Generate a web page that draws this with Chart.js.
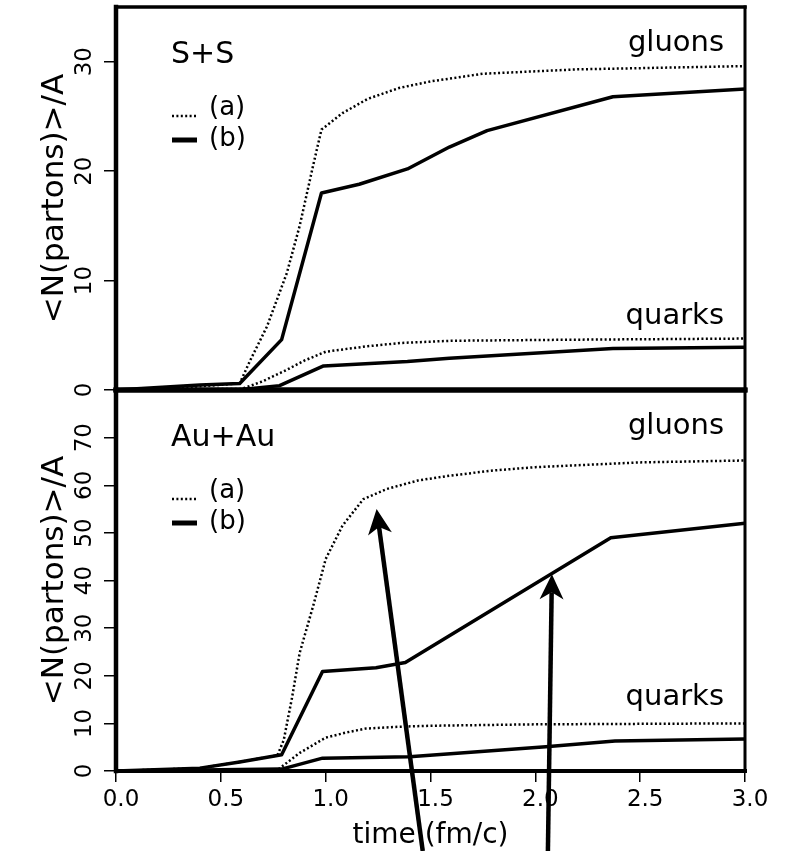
<!DOCTYPE html>
<html>
<head>
<meta charset="utf-8">
<script src="https://cdn.jsdelivr.net/npm/chart.js@4/dist/chart.umd.min.js"></script>
<style>
  html, body { margin: 0; padding: 0; background: #fff; }
  body { width: 796px; height: 851px; position: relative; overflow: hidden; }
  canvas { position: absolute; left: 0; }
  #ssChart { top: 0; }
  #auChart { top: 380px; }
</style>
</head>
<body>
<canvas id="ssChart" width="796" height="400"></canvas>
<canvas id="auChart" width="796" height="471"></canvas>
<script>
// S+S panel
const ssGluonTimeA = [0, 0.3, 0.59, 0.64, 0.72, 0.815, 0.876, 0.94, 0.98, 1.08, 1.2, 1.35, 1.5, 1.75, 2.2, 3.0];
const ssGluonA     = [0, 0.2, 0.6, 2.7, 5.8, 10.7, 15.0, 20.5, 23.8, 25.3, 26.6, 27.6, 28.2, 28.9, 29.3, 29.6];
const ssGluonTimeB = [0, 0.4, 0.59, 0.79, 0.98, 1.16, 1.39, 1.59, 1.77, 2.37, 3.0];
const ssGluonB     = [0, 0.45, 0.6, 4.6, 18.0, 18.8, 20.2, 22.2, 23.7, 26.8, 27.5];
const ssQuarkTimeA = [0, 0.6, 0.7, 0.81, 0.9, 1.0, 1.2, 1.36, 1.6, 2.2, 3.0];
const ssQuarkA     = [0, 0.1, 0.8, 1.8, 2.7, 3.5, 4.0, 4.3, 4.5, 4.6, 4.7];
const ssQuarkTimeB = [0, 0.6, 0.78, 0.99, 1.39, 1.59, 2.37, 3.0];
const ssQuarkB     = [0, 0.05, 0.4, 2.2, 2.6, 2.9, 3.8, 3.9];

// Au+Au panel
const auGluonTimeA = [0, 0.4, 0.59, 0.77, 0.80, 0.84, 0.876, 0.94, 1.0, 1.08, 1.18, 1.29, 1.44, 1.59, 1.8, 2.0, 2.5, 3.0];
const auGluonA     = [0, 0.6, 1.9, 3.3, 6.5, 15.5, 24.8, 34.6, 44.5, 51.5, 57.1, 59.2, 61.0, 62.0, 63.1, 63.8, 64.8, 65.2];
const auGluonTimeB = [0, 0.4, 0.59, 0.79, 0.985, 1.24, 1.38, 2.36, 3.0];
const auGluonB     = [0, 0.6, 1.9, 3.4, 20.9, 21.7, 22.8, 49.0, 52.0];
const auQuarkTimeA = [0, 0.77, 0.876, 1.0, 1.1, 1.19, 1.35, 1.5, 2.0, 3.0];
const auQuarkA     = [0, 0.2, 3.8, 7.0, 8.1, 8.9, 9.3, 9.5, 9.8, 10.0];
const auQuarkTimeB = [0, 0.79, 0.985, 1.4, 2.05, 2.38, 3.0];
const auQuarkB     = [0, 0.4, 2.7, 3.0, 5.1, 6.3, 6.7];

// arrows: tip (time, value) and time where the shaft leaves the page bottom
const arrowTipTime  = [1.243, 2.079];
const arrowTipValue = [55.0, 41.3];
const arrowTailTime = [1.463, 2.06];

const xTicks = [0, 0.5, 1.0, 1.5, 2.0, 2.5, 3.0];
const FONT = 'DejaVu Sans';
const DOTS = [2, 2.4];

Chart.defaults.font.family = FONT;
Chart.defaults.color = '#000';

function pts(times, values) {
  return times.map((t, i) => ({x: t, y: values[i]}));
}

function lineSet(label, times, values, dotted) {
  return {
    label: label,
    data: pts(times, values),
    borderColor: '#000',
    borderWidth: dotted ? 2.5 : 3.5,
    borderDash: dotted ? DOTS : [],
    borderJoinStyle: 'round',
    tension: 0,
    pointRadius: 0,
    fill: false
  };
}

function yScale(max) {
  return {
    min: 0, max: max,
    afterBuildTicks: s => { s.ticks = s.ticks.filter(t => t.value < max && t.value % 10 === 0); },
    afterFit: s => { s.width = 116; s.paddingTop = 0; s.paddingBottom = 0; },
    ticks: { stepSize: 10, autoSkip: false, minRotation: 90, maxRotation: 90, crossAlign: 'center', padding: 4, font: {size: 23} },
    grid: { drawOnChartArea: false, tickLength: 12, color: '#000', lineWidth: 1.5 },
    border: { display: false },
    title: { display: true, text: '<N(partons)>/A', font: {size: 31}, padding: {top: 36, bottom: 0} }
  };
}

function seg(ctx, x1, y1, x2, y2, w) {
  ctx.lineWidth = w;
  ctx.beginPath();
  ctx.moveTo(x1, y1);
  ctx.lineTo(x2, y2);
  ctx.stroke();
}

// frame, panel name, little legend and curve labels
const notesPlugin = {
  id: 'notes',
  afterDraw(chart, args, o) {
    const {ctx, chartArea: a} = chart;
    ctx.save();
    ctx.strokeStyle = '#000';
    ctx.fillStyle = '#000';
    ctx.lineCap = 'square';
    seg(ctx, a.left, a.top, a.left, a.bottom, 4.5);
    seg(ctx, a.left, a.top, a.right, a.top, o.topWidth);
    seg(ctx, a.right, a.top, a.right, a.bottom, 3);
    seg(ctx, a.left, a.bottom, a.right, a.bottom, o.bottomWidth);

    ctx.textAlign = 'left';
    ctx.textBaseline = 'alphabetic';
    ctx.font = '30px "' + FONT + '"';
    ctx.fillText(o.system, a.left + 55, a.top + 56);

    ctx.font = '29px "' + FONT + '"';
    ctx.textAlign = 'right';
    ctx.fillText('gluons', a.right - 21, a.top + 44);
    ctx.fillText('quarks', a.right - 21, a.bottom - 66);

    // legend samples
    ctx.lineCap = 'butt';
    ctx.setLineDash(DOTS);
    seg(ctx, a.left + 56, a.top + 109, a.left + 82, a.top + 109, 2.5);
    ctx.setLineDash([]);
    seg(ctx, a.left + 56, a.top + 133, a.left + 81, a.top + 133, 5);
    ctx.textAlign = 'left';
    ctx.textBaseline = 'middle';
    ctx.font = '26px "' + FONT + '"';
    ctx.fillText('(a)', a.left + 93, a.top + 101);
    ctx.fillText('(b)', a.left + 93, a.top + 132);
    ctx.restore();
  }
};

const arrowPlugin = {
  id: 'arrows',
  afterDraw(chart) {
    const ctx = chart.ctx;
    const xs = chart.scales.x, ys = chart.scales.y;
    ctx.save();
    ctx.strokeStyle = '#000';
    ctx.fillStyle = '#000';
    arrowTipTime.forEach((t, i) => {
      const tx = xs.getPixelForValue(t), ty = ys.getPixelForValue(arrowTipValue[i]);
      const bx = xs.getPixelForValue(arrowTailTime[i]), by = chart.height;
      const len = Math.hypot(tx - bx, ty - by);
      const ux = (tx - bx) / len, uy = (ty - by) / len;
      const px = -uy, py = ux;
      seg(ctx, bx, by, tx - ux * 18, ty - uy * 18, 4.5);
      ctx.beginPath();
      ctx.moveTo(tx, ty);
      ctx.lineTo(tx - ux * 25 + px * 12, ty - uy * 25 + py * 12);
      ctx.lineTo(tx - ux * 18, ty - uy * 18);
      ctx.lineTo(tx - ux * 25 - px * 12, ty - uy * 25 - py * 12);
      ctx.closePath();
      ctx.fill();
    });
    ctx.restore();
  }
};

new Chart(document.getElementById('ssChart'), {
  type: 'line',
  data: {
    datasets: [
      lineSet('gluons (a)', ssGluonTimeA, ssGluonA, true),
      lineSet('gluons (b)', ssGluonTimeB, ssGluonB, false),
      lineSet('quarks (a)', ssQuarkTimeA, ssQuarkA, true),
      lineSet('quarks (b)', ssQuarkTimeB, ssQuarkB, false)
    ]
  },
  options: {
    responsive: false,
    animation: false,
    layout: { padding: {top: 7, bottom: 10, left: 0, right: 51} },
    plugins: {
      legend: { display: false },
      tooltip: { enabled: false },
      notes: { system: 'S+S', topWidth: 3.5, bottomWidth: 5 }
    },
    scales: {
      x: { type: 'linear', min: 0, max: 3, display: false },
      y: yScale(35)
    }
  },
  plugins: [notesPlugin]
});

new Chart(document.getElementById('auChart'), {
  type: 'line',
  data: {
    datasets: [
      lineSet('gluons (a)', auGluonTimeA, auGluonA, true),
      lineSet('gluons (b)', auGluonTimeB, auGluonB, false),
      lineSet('quarks (a)', auQuarkTimeA, auQuarkA, true),
      lineSet('quarks (b)', auQuarkTimeB, auQuarkB, false)
    ]
  },
  options: {
    responsive: false,
    animation: false,
    layout: { padding: {top: 10, bottom: 0, left: 0, right: 51} },
    plugins: {
      legend: { display: false },
      tooltip: { enabled: false },
      notes: { system: 'Au+Au', topWidth: 5, bottomWidth: 4 }
    },
    scales: {
      x: {
        type: 'linear', min: 0, max: 3,
        afterBuildTicks: s => { s.ticks = xTicks.map(v => ({value: v})); },
        afterFit: s => { s.height = 80; s.paddingLeft = 0; s.paddingRight = 0; },
        ticks: { autoSkip: false, maxRotation: 0, padding: 4, labelOffset: 5, font: {size: 23}, callback: v => v.toFixed(1) },
        grid: { drawOnChartArea: false, tickLength: 11, color: '#000', lineWidth: 1.5 },
        border: { display: false },
        title: { display: true, text: 'time (fm/c)', font: {size: 28, lineHeight: 1.1}, padding: {top: 0, bottom: 0} }
      },
      y: yScale(80)
    }
  },
  plugins: [notesPlugin, arrowPlugin]
});
</script>
</body>
</html>
